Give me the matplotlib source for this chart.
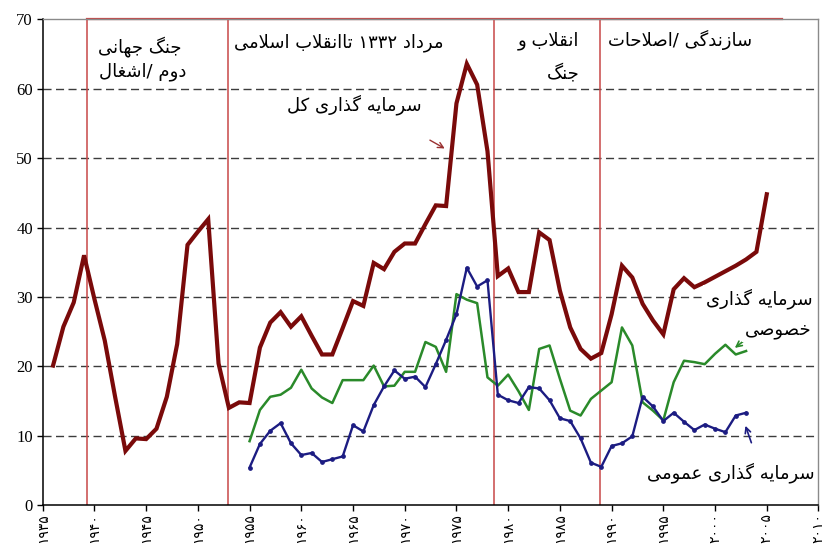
import re

import matplotlib
matplotlib.use("Agg")
import matplotlib.pyplot as plt

# سهم سرمایه گذاری از تولید (درصد)
years_total = list(range(1936, 2006))
total = [20.1, 25.7, 29.2, 36.0, 29.7, 23.7, 15.6, 7.8, 9.6, 9.5,
         11.0, 15.6, 23.2, 37.5, 39.4, 41.2, 20.4, 14.0, 14.8, 14.7,
         22.7, 26.3, 27.8, 25.7, 27.2, 24.4, 21.7, 21.7, 25.5, 29.4,
         28.7, 34.9, 34.0, 36.5, 37.7, 37.7, 40.5, 43.2, 43.1, 57.9,
         63.6, 60.6, 51.0, 33.0, 34.1, 30.7, 30.7, 39.3, 38.2, 30.9,
         25.6, 22.5, 21.1, 21.9, 27.5, 34.5, 32.8, 29.0, 26.6, 24.6,
         31.1, 32.7, 31.4, 32.1, 32.9, 33.7, 34.5, 35.4, 36.5, 44.8]

years_sub = list(range(1955, 2004))
private = [9.2, 13.7, 15.6, 15.9, 16.9, 19.5, 16.8, 15.5, 14.7, 18.0,
           18.0, 18.0, 20.1, 17.1, 17.2, 19.2, 19.2, 23.5, 22.8, 19.2,
           30.4, 29.6, 29.1, 18.4, 17.2, 18.8, 16.4, 13.7, 22.5, 23.0,
           18.2, 13.6, 12.9, 15.3, 16.5, 17.7, 25.6, 23.0, 14.8, 13.6,
           12.2, 17.7, 20.8, 20.6, 20.3, 21.8, 23.1, 21.7, 22.2]
public = [5.4, 8.8, 10.7, 11.8, 8.9, 7.2, 7.5, 6.2, 6.6, 7.0,
          11.5, 10.6, 14.4, 17.1, 19.4, 18.2, 18.5, 17.0, 20.3, 23.8,
          27.5, 34.2, 31.5, 32.4, 15.9, 15.1, 14.7, 17.0, 16.8, 15.1,
          12.5, 12.1, 9.6, 6.1, 5.5, 8.5, 8.9, 9.9, 15.6, 14.2,
          12.1, 13.3, 12.0, 10.8, 11.6, 11.0, 10.5, 12.9, 13.3]

period_bounds = [1939.3, 1952.9, 1978.6, 1988.9]
tick_years = list(range(1935, 2011, 5))

# شکل حروف فارسی (تنها، پایانی، آغازی، میانی)
FORMS = {
    "ا": ("\ufe8d", "\ufe8e"),
    "د": ("\ufea9", "\ufeaa"),
    "ذ": ("\ufeab", "\ufeac"),
    "ر": ("\ufead", "\ufeae"),
    "ز": ("\ufeaf", "\ufeb0"),
    "و": ("\ufeed", "\ufeee"),
    "ب": ("\ufe8f", "\ufe90", "\ufe91", "\ufe92"),
    "ت": ("\ufe95", "\ufe96", "\ufe97", "\ufe98"),
    "ج": ("\ufe9d", "\ufe9e", "\ufe9f", "\ufea0"),
    "ح": ("\ufea1", "\ufea2", "\ufea3", "\ufea4"),
    "خ": ("\ufea5", "\ufea6", "\ufea7", "\ufea8"),
    "س": ("\ufeb1", "\ufeb2", "\ufeb3", "\ufeb4"),
    "ش": ("\ufeb5", "\ufeb6", "\ufeb7", "\ufeb8"),
    "ص": ("\ufeb9", "\ufeba", "\ufebb", "\ufebc"),
    "ع": ("\ufec9", "\ufeca", "\ufecb", "\ufecc"),
    "غ": ("\ufecd", "\ufece", "\ufecf", "\ufed0"),
    "ق": ("\ufed5", "\ufed6", "\ufed7", "\ufed8"),
    "ل": ("\ufedd", "\ufede", "\ufedf", "\ufee0"),
    "م": ("\ufee1", "\ufee2", "\ufee3", "\ufee4"),
    "ن": ("\ufee5", "\ufee6", "\ufee7", "\ufee8"),
    "ه": ("\ufee9", "\ufeea", "\ufeeb", "\ufeec"),
    "ک": ("\ufb8e", "\ufb8f", "\ufb90", "\ufb91"),
    "گ": ("\ufb92", "\ufb93", "\ufb94", "\ufb95"),
    "ی": ("\ufbfc", "\ufbfd", "\ufbfe", "\ufbff"),
}


def fa(text):
    """Join Persian letters and put them in visual (left-to-right) order."""
    out = []
    i = 0
    while i < len(text):
        c = text[i]
        if c not in FORMS:
            out.append(c)
            i += 1
            continue
        prev = text[i - 1] if i > 0 else ""
        joins_prev = prev in FORMS and len(FORMS[prev]) == 4
        if c == "ل" and i + 1 < len(text) and text[i + 1] == "ا":
            out.append("\ufefc" if joins_prev else "\ufefb")
            i += 2
            continue
        nxt = text[i + 1] if i + 1 < len(text) else ""
        joins_next = len(FORMS[c]) == 4 and nxt in FORMS
        forms = FORMS[c]
        if joins_prev and joins_next:
            out.append(forms[3])
        elif joins_prev:
            out.append(forms[1])
        elif joins_next:
            out.append(forms[2])
        else:
            out.append(forms[0])
        i += 1
    visual = "".join(out)[::-1]
    return re.sub("[\u06f0-\u06f9]+", lambda m: m.group(0)[::-1], visual)


FA_DIGITS = str.maketrans("0123456789", "۰۱۲۳۴۵۶۷۸۹")

plt.rcParams["font.family"] = ["DejaVu Sans"]

fig = plt.figure(figsize=(8.34, 5.47), dpi=100)
ax = fig.add_axes([0.0512, 0.0768, 0.9302, 0.8876])

red = "#7a0a0a"
green = "#2a8a2a"
blue = "#1c1c82"

ax.plot(years_total, total, color=red, lw=3.0, zorder=4, solid_joinstyle="miter")
ax.plot(years_sub, private, color=green, lw=1.8, zorder=3)
ax.plot(years_sub, public, color=blue, lw=1.7, zorder=3,
        marker="o", markersize=2.4)

ax.set_xlim(1935, 2010)
ax.set_ylim(0, 70)

for g in range(10, 70, 10):
    ax.axhline(g, color="#3c3c3c", lw=1.0, ls=(0, (5.8, 3.2)), zorder=1)

for b in period_bounds:
    ax.axvline(b, color="#c84848", lw=1.1, zorder=2)
ax.plot([period_bounds[0], 2006.5], [70, 70], color="#c84848", lw=1.6,
        zorder=2, clip_on=False)

ax.set_xticks(tick_years)
ax.set_xticklabels([str(y).translate(FA_DIGITS) for y in tick_years],
                   rotation=90, fontsize=10)
ax.set_yticks(range(0, 71, 10))
ax.set_yticklabels([str(v) for v in range(0, 71, 10)],
                   fontsize=12, family="Liberation Serif")
ax.tick_params(axis="both", direction="out", length=4, width=1, pad=3)
ax.tick_params(axis="x", pad=2)

for side in ["left", "bottom"]:
    ax.spines[side].set_color("black")
    ax.spines[side].set_linewidth(1.1)
for side in ["top", "right"]:
    ax.spines[side].set_color("#8a8a8a")
    ax.spines[side].set_linewidth(1.0)

fs = 13
white = dict(facecolor="white", edgecolor="none", pad=2)

ax.text(1948.45, 66.1, fa("جنگ جهانی"), ha="right", va="center", fontsize=fs)
ax.text(1948.9, 62.4, fa("دوم /اشغال"), ha="right", va="center", fontsize=fs)
ax.text(1973.7, 66.6, fa("مرداد ۱۳۳۲ تاانقلاب اسلامی"), ha="right",
        va="center", fontsize=fs)
ax.text(1986.9, 67.0, fa("انقلاب و"), ha="right", va="center", fontsize=fs)
ax.text(1986.9, 62.3, fa("جنگ"), ha="right", va="center", fontsize=fs)
ax.text(2003.6, 67.0, fa("سازندگی /اصلاحات"), ha="right", va="center",
        fontsize=fs)

ax.text(1971.6, 57.7, fa("سرمایه گذاری کل"), ha="right", va="center",
        fontsize=fs, bbox=white, zorder=5)
ax.annotate("", xy=(1974.1, 51.2), xytext=(1972.2, 52.8),
            arrowprops=dict(arrowstyle="->", color="#9a3030", lw=1.0))

ax.text(2009.4, 29.8, fa("سرمایه گذاری"), ha="right", va="center",
        fontsize=fs, bbox=white, zorder=5, clip_on=False)
ax.text(2009.3, 25.2, fa("خصوصی"), ha="right", va="center",
        fontsize=fs, bbox=white, zorder=5, clip_on=False)
ax.annotate("", xy=(2001.7, 22.4), xytext=(2002.9, 23.8),
            arrowprops=dict(arrowstyle="->", color=green, lw=1.2))

ax.text(2009.6, 4.6, fa("سرمایه گذاری عمومی"), ha="right", va="center",
        fontsize=fs, bbox=white, zorder=5, clip_on=False)
ax.annotate("", xy=(2002.85, 11.8), xytext=(2003.6, 8.6),
            arrowprops=dict(arrowstyle="->", color=blue, lw=1.2))

fig.savefig("out.png", dpi=100)
